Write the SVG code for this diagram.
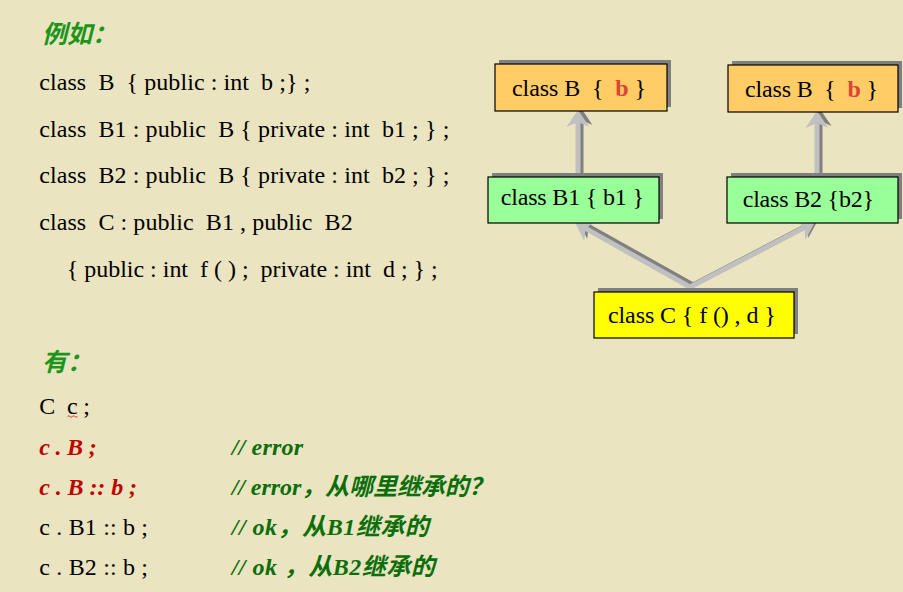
<svg xmlns="http://www.w3.org/2000/svg" width="903" height="592" viewBox="0 0 903 592" xml:space="preserve">
<style>
text{white-space:pre}
.bg{fill:#EAE4C1}
.code{font-family:"Liberation Serif","Noto Sans CJK SC",serif;font-size:24px;fill:#000}
.title{font-family:"Noto Sans CJK SC","Liberation Sans",sans-serif;font-size:25px;font-weight:bold;font-style:italic;fill:#1A961A}
.err{font-family:"Liberation Serif",serif;font-size:24px;font-weight:bold;font-style:italic;fill:#C00000}
.cmt{font-family:"Liberation Serif","Noto Sans CJK SC",serif;font-size:24px;font-weight:bold;font-style:italic;fill:#0A6E0A}
.shadow{fill:#808080}
.box{stroke:#000;stroke-width:1.2}
.orange{fill:#FFCC66}
.green{fill:#99FF99}
.yellow{fill:#FFFF00}
.ntext{font-family:"Liberation Serif",serif;font-size:24px;fill:#000}
.red{font-weight:bold;fill:#DD4433}
.lineL{stroke:#C0C0C0;stroke-width:5;fill:none;marker-end:url(#headL)}
.lineD{stroke:#808080;stroke-width:5;fill:none;marker-end:url(#headD)}
</style>
<defs>
<marker id="headL" markerUnits="userSpaceOnUse" orient="auto" refX="5" refY="0" markerWidth="20" markerHeight="26" viewBox="0 -13 20 26" overflow="visible">
<path d="M0,-11.5 L17,0 L0,11.5 L5,0 Z" fill="#C0C0C0"/>
</marker>
<marker id="headD" markerUnits="userSpaceOnUse" orient="auto" refX="5" refY="0" markerWidth="20" markerHeight="26" viewBox="0 -13 20 26" overflow="visible">
<path d="M0,-11.5 L17,0 L0,11.5 L5,0 Z" fill="#808080"/>
</marker>
</defs>
<rect class="bg" x="0" y="0" width="903" height="592"/>

<g id="code-text">
<text class="title" x="42" y="43">例如：</text>
<text class="code" x="39.3" y="90" textLength="271" lengthAdjust="spacing">class  B  { public : int  b ;} ;</text>
<text class="code" x="39.3" y="137" textLength="410" lengthAdjust="spacing">class  B1 : public  B { private : int  b1 ; } ;</text>
<text class="code" x="39.3" y="183" textLength="410" lengthAdjust="spacing">class  B2 : public  B { private : int  b2 ; } ;</text>
<text class="code" x="39.3" y="230" textLength="313.4" lengthAdjust="spacing">class  C : public  B1 , public  B2</text>
<text class="code" x="66.7" y="277" textLength="371" lengthAdjust="spacing">{ public : int  f ( ) ;  private : int  d ; } ;</text>
</g>

<g id="usage-text">
<text class="title" x="42" y="371">有：</text>
<text class="code" x="39.3" y="414" textLength="50.7" lengthAdjust="spacing">C  c ;</text>
<path d="M67.5,416.5 q1.25,-1.5 2.5,0 t2.5,0 t2.5,0 t2.5,0" fill="none" stroke="#E02020" stroke-width="0.9"/>
<text class="err" x="39.3" y="455" textLength="57.4" lengthAdjust="spacing">c . B ;</text>
<text class="cmt" x="231.7" y="455" textLength="71.3" lengthAdjust="spacing">// error</text>
<text class="err" x="39.3" y="495" textLength="97.7" lengthAdjust="spacing">c . B :: b ;</text>
<text class="cmt" x="231.7" y="495" textLength="261" lengthAdjust="spacing">// error，从哪里继承的？</text>
<text class="code" x="39.3" y="535" textLength="108.7" lengthAdjust="spacing">c . B1 :: b ;</text>
<text class="cmt" x="231.7" y="535" textLength="197" lengthAdjust="spacing">// ok，从B1继承的</text>
<text class="code" x="39.3" y="575" textLength="108.7" lengthAdjust="spacing">c . B2 :: b ;</text>
<text class="cmt" x="231.7" y="575" textLength="203" lengthAdjust="spacing">// ok ，从B2继承的</text>
</g>

<g id="connectors">
<g transform="translate(3,-2)">
<line class="lineD" x1="578" y1="177" x2="578" y2="122"/>
<line class="lineD" x1="817" y1="177" x2="817" y2="123"/>
<line class="lineD" x1="690" y1="287" x2="585.5" y2="228.4"/>
<line class="lineD" x1="690" y1="287" x2="804.4" y2="227.5"/>
</g>
<line class="lineL" x1="578" y1="177" x2="578" y2="122"/>
<line class="lineL" x1="817" y1="177" x2="817" y2="123"/>
<line class="lineL" x1="690" y1="287" x2="585.5" y2="228.4"/>
<line class="lineL" x1="690" y1="287" x2="804.4" y2="227.5"/>
</g>

<g id="node-B-left">
<rect class="shadow" x="499" y="60" width="172" height="47"/>
<rect class="box orange" x="495" y="64" width="172" height="47"/>
<text class="ntext" x="512" y="95.5" textLength="134" lengthAdjust="spacing">class B  {  <tspan class="red">b</tspan> }</text>
</g>
<g id="node-B-right">
<rect class="shadow" x="732" y="61" width="170" height="47"/>
<rect class="box orange" x="728" y="65" width="170" height="47"/>
<text class="ntext" x="745" y="96.5" textLength="133" lengthAdjust="spacing">class B  {  <tspan class="red">b</tspan> }</text>
</g>
<g id="node-B1">
<rect class="shadow" x="492" y="173" width="171" height="46"/>
<rect class="box green" x="488" y="177" width="171" height="46"/>
<text class="ntext" x="500.7" y="205" textLength="143.3" lengthAdjust="spacing">class B1 { b1 }</text>
</g>
<g id="node-B2">
<rect class="shadow" x="731" y="173" width="171" height="46"/>
<rect class="box green" x="727" y="177" width="171" height="46"/>
<text class="ntext" x="742.7" y="207" textLength="131.3" lengthAdjust="spacing">class B2 {b2}</text>
</g>
<g id="node-C">
<rect class="shadow" x="598" y="288" width="200" height="46"/>
<rect class="box yellow" x="594" y="292" width="200" height="46"/>
<text class="ntext" x="608" y="323" textLength="167.7" lengthAdjust="spacing">class C { f () , d }</text>
</g>
</svg>
